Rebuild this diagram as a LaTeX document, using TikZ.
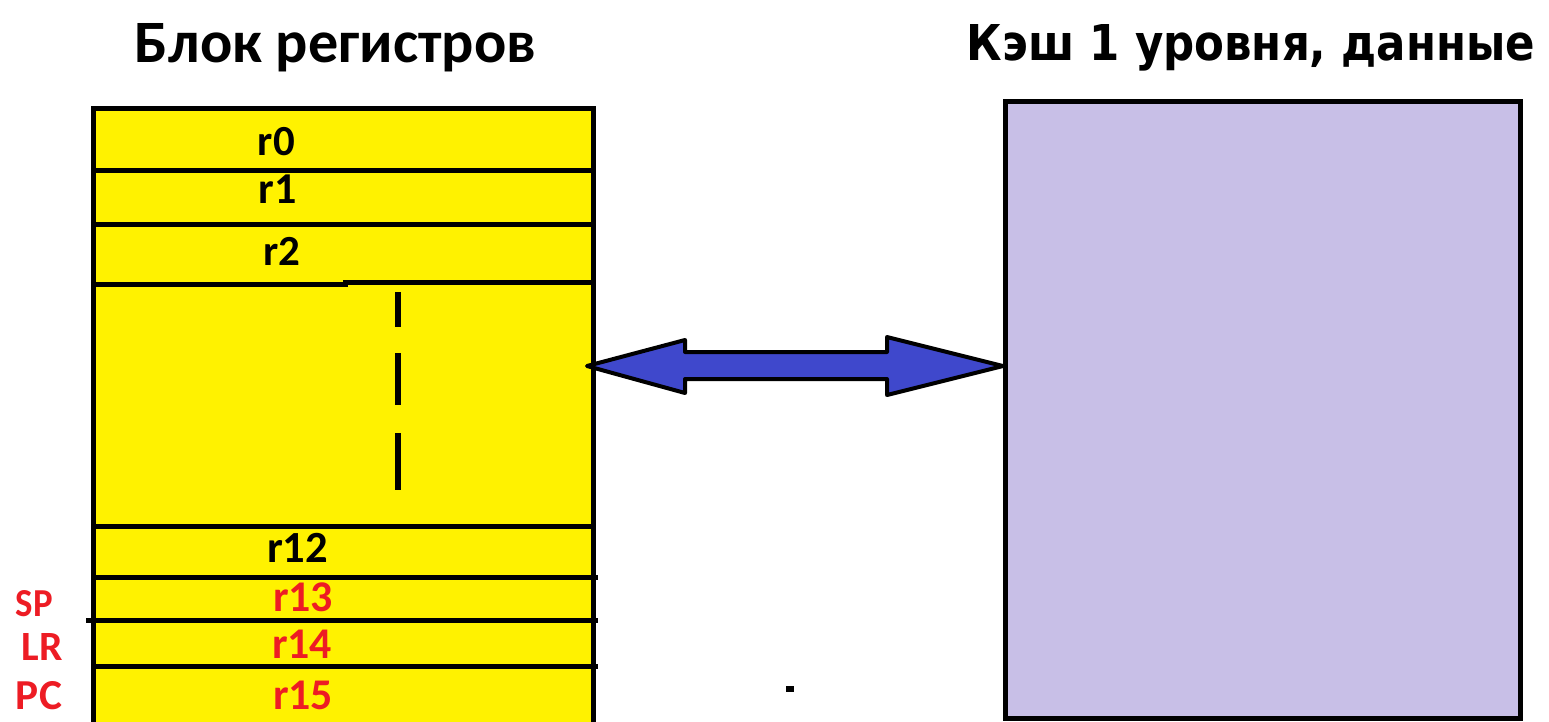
\documentclass[tikz,border=0pt]{standalone}
\usepackage{fontspec}
\setmainfont{Carlito}
\newfontfamily\verdanalike{DejaVu Sans}
\usepackage{graphicx}
\usetikzlibrary{calc}
\definecolor{regyellow}{RGB}{255,242,0}
\definecolor{cachelav}{RGB}{200,191,231}
\definecolor{arrowblue}{RGB}{63,72,204}
\definecolor{labred}{RGB}{237,28,36}
\newcommand{\fitw}[2]{\resizebox{#1pt}{!}{#2}}
\newcommand{\fitwh}[3]{\resizebox{#1pt}{#2pt}{#3}}
\begin{document}
\begin{tikzpicture}[x=1pt,y=-1pt,
  lbl/.style={anchor=base,inner sep=0pt,outer sep=0pt,font=\bfseries},
  redlbl/.style={lbl,text=labred},
  sepline/.style={line width=5pt},
  dashseg/.style={line width=6pt},
  panel/.style={draw,line width=5pt,anchor=north west,outer sep=0pt,inner sep=0pt},
  blockarrow/.style={draw,fill=arrowblue,line width=4pt,line join=round}]
\useasboundingbox (0,0) rectangle (1549,721);
\clip (0,0) rectangle (1549,721);
\fill[white] (0,0) rectangle (1549,721);

% titles
\node[lbl] (t1) at (335.5,62) {\fitw{401}{Блок регистров}};
\node[lbl] (t2) at (1251,60) {\fitwh{568}{36}{\verdanalike\bfseries Кэш 1 уровня, данные}};

% register block
\node[panel,fill=regyellow,minimum width=500pt,minimum height=640pt] (regs) at (93,108) {};
% cache
\node[panel,fill=cachelav,minimum width=515pt,minimum height=617pt] (cache) at (1005,101) {};

% separators
\draw[sepline] (93,170) -- (593,170);
\draw[sepline] (93,224) -- (593,224);
\draw[sepline] (93,284) -- (345,284) -- (345,282) -- (593,282);
\draw[sepline] (93,526) -- (593,526);
\draw[sepline] (93,577) -- (598,577);
\draw[sepline] (86,620) -- (598,620);
\draw[sepline] (93,666) -- (598,666);

% dashed marker
\draw[dashseg] (397.5,292) -- (397.5,327);
\draw[dashseg] (397.5,353) -- (397.5,405);
\draw[dashseg] (397.5,433) -- (397.5,490);

% labels
\node[lbl] (r0) at (276.5,155) {\fitw{37}{r0}};
\node[lbl] (r1) at (278,203) {\fitw{38}{r1}};
\node[lbl] (r2) at (281.5,265) {\fitw{37}{r2}};
\node[lbl] (r12) at (297.5,562) {\fitw{61}{r12}};
\node[redlbl] (r13) at (303,611) {\fitw{60}{r13}};
\node[redlbl] (r14) at (302,658) {\fitw{60}{r14}};
\node[redlbl] (r15) at (303,709) {\fitw{60}{r15}};
\node[redlbl] (sp) at (34.5,616) {\fitwh{37}{26}{SP}};
\node[redlbl] (lr) at (42.5,660) {\fitwh{41}{27}{LR}};
\node[redlbl] (pc) at (39,709) {\fitwh{46}{28}{PC}};

% double block arrow
\coordinate (aL) at ($(regs.north east)+(-6,258)$);
\coordinate (aR) at ($(cache.north west)+(-2,265)$);
\draw[blockarrow] (aL) -- ++(98,-26) -- ++(0,12) -- ($(aR)+(-116,-14)$) -- ++(0,-15)
  -- (aR) -- ++(-116,29) -- ++(0,-16) -- ($(aL)+(98,13)$) -- ++(0,14) -- cycle;

% stray dot
\fill (786,686) rectangle (794,692);
\end{tikzpicture}
\end{document}
